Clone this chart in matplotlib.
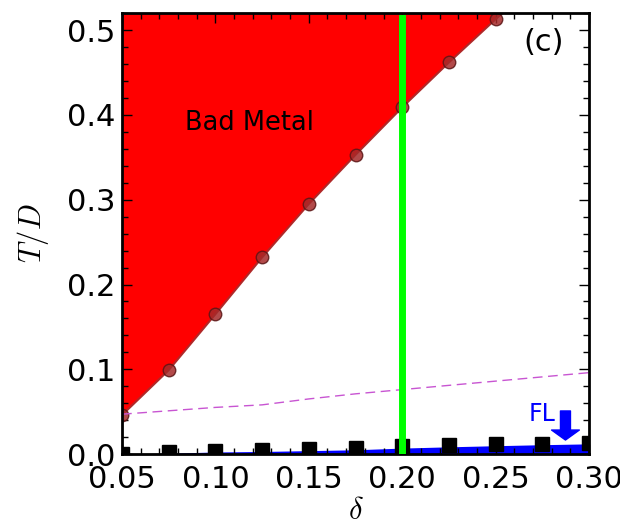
import matplotlib.pyplot as plt
from matplotlib.ticker import MultipleLocator

plt.rcParams['mathtext.fontset'] = 'cm'

# data
delta = [0.05, 0.075, 0.10, 0.125, 0.15, 0.175, 0.20, 0.225, 0.25, 0.275, 0.30]
t_bad = [0.046, 0.099, 0.165, 0.232, 0.295, 0.353, 0.409, 0.462, 0.513]
t_bad_edge = t_bad + [0.562]          # boundary goes on past the top
t_dash = [0.047, 0.051, 0.055, 0.058, 0.065, 0.071, 0.076, 0.081, 0.086, 0.091, 0.096]
t_fl = [0.0, 0.001, 0.0024, 0.003, 0.004, 0.005, 0.007, 0.0085, 0.0098, 0.011, 0.012]
t_sq = [0.0005, 0.0025, 0.0035, 0.005, 0.0064, 0.0075, 0.009, 0.0103, 0.0114, 0.012, 0.013]
delta_mark = 0.20
t_mark_top = 0.515

fig = plt.figure(figsize=(6.2, 5.23), dpi=100)
ax = fig.add_axes([0.1968, 0.1319, 0.7532, 0.8427])

# bad metal region
ax.fill_between(delta[:10], t_bad_edge, 1.0, color='red', lw=0)
ax.plot(delta[:10], t_bad_edge, color='#b02828', lw=1.5)
ax.plot(delta[:9], t_bad, 'o', ms=9, mfc='#a52a2a', mec='#5a1515', alpha=0.85)

# crossover line
ax.plot(delta, t_dash, color='#c855d2', lw=1, dashes=(7, 4))

# Fermi liquid region
ax.fill_between(delta, 0, t_fl, color='blue', lw=0)
ax.plot(delta, t_sq, 's', color='k', ms=10, zorder=5)

# vertical marker
ax.plot([delta_mark, delta_mark], [0, t_mark_top], color='#00ff00', lw=5, zorder=6)

ax.text(0.118, 0.391, 'Bad Metal', fontsize=18.5, ha='center', va='center')
ax.text(0.2757, 0.486, '(c)', fontsize=22, ha='center', va='center')
ax.text(0.2748, 0.047, 'FL', color='blue', fontsize=17, ha='center', va='center')
ax.annotate('', xy=(0.2874, 0.0165), xytext=(0.2874, 0.0508),
            arrowprops=dict(arrowstyle='simple,head_width=1.0,head_length=0.36,tail_width=0.36',
                            color='blue', mutation_scale=20, shrinkA=0, shrinkB=0))

ax.set_xlim(0.05, 0.30)
ax.set_ylim(0, 0.52)
ax.xaxis.set_major_locator(MultipleLocator(0.05))
ax.xaxis.set_minor_locator(MultipleLocator(0.01))
ax.yaxis.set_major_locator(MultipleLocator(0.1))
ax.yaxis.set_minor_locator(MultipleLocator(0.02))

ax.tick_params(which='both', direction='in', top=True, right=True, labelsize=22)
ax.tick_params(which='major', length=7, width=1)
ax.tick_params(which='minor', length=4, width=1)
ax.tick_params(axis='x', pad=8)
ax.tick_params(axis='y', pad=5)
for s in ax.spines.values():
    s.set_linewidth(2)

ax.set_xlabel(r'$\delta$', fontsize=22, labelpad=1)
ax.set_ylabel(r'$T/D$', fontsize=22, labelpad=11)

fig.savefig('out.png', dpi=100)
